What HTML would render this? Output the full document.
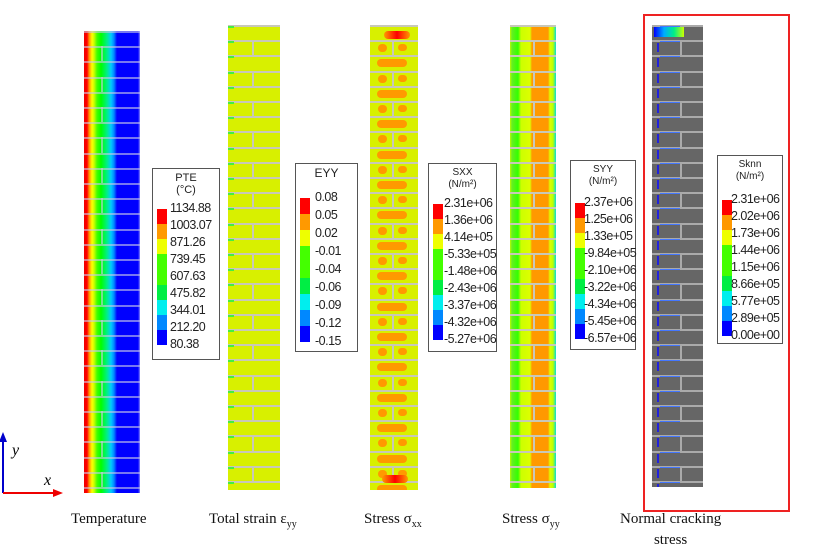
<!DOCTYPE html>
<html><head><meta charset="utf-8"><style>
body{margin:0;width:828px;height:546px;background:#fff;position:relative;overflow:hidden;font-family:"Liberation Sans",sans-serif}
.col{position:absolute;overflow:hidden}
.leg{position:absolute;border:1px solid #555;background:#fff;font-size:11px;color:#222}
.leg .t{text-align:center;line-height:12px;margin-top:3px}
.leg .bar{position:absolute;width:10px}
.leg .v{position:absolute;line-height:13px;font-size:12.5px;letter-spacing:-0.5px}
.cap{position:absolute;font-family:"Liberation Serif",serif;font-size:15px;color:#111;white-space:nowrap}
</style></head><body>
<div id="c1" class="col" style="left:84px;top:31px;width:56px;height:462px;background:linear-gradient(90deg,#e00 0,#f00 3px,#f80 5px,#ff0 8px,#cf0 10px,#4f0 13px,#0f0 17px,#0e8 23px,#0cf 27px,#08f 30px,#00f 33px,#00f 54px,#88f 56px)"></div>
<div id="c2" class="col" style="left:228px;top:25px;width:52px;height:465px;background:#d8f000"></div>
<div id="c3" class="col" style="left:370px;top:25px;width:48px;height:465px;background:#d8f000"></div>
<div id="c4" class="col" style="left:510px;top:25px;width:46px;height:463px;background:linear-gradient(90deg,#bf0 0,#6e2 2px,#3f0 8px,#cf0 11px,#df0 20px,#f90 22px,#f90 38px,#df0 40px,#bf0 43px,#0dd 46px)"></div>
<div id="c5" class="col" style="left:652px;top:25px;width:51px;height:462px;background:#666"></div>
<div style="position:absolute;left:643px;top:14px;width:143px;height:494px;border:2px solid #e22"></div>

<div class="leg" style="left:152px;top:168px;width:66px;height:190px"><div class="t">PTE<br>(°C)</div></div>
<div class="leg" style="left:295px;top:163px;width:61px;height:187px"><div class="t" style="font-size:12px">EYY</div></div>
<div class="leg" style="left:428px;top:163px;width:67px;height:187px"><div class="t" style="font-size:10px">SXX<br>(N/m²)</div></div>
<div class="leg" style="left:570px;top:160px;width:64px;height:188px"><div class="t" style="font-size:10px">SYY<br>(N/m²)</div></div>
<div class="leg" style="left:717px;top:155px;width:64px;height:187px"><div class="t" style="font-size:10px">Sknn<br>(N/m²)</div></div>

<svg style="position:absolute;left:0;top:0" width="828" height="546">
<line x1="3" y1="493" x2="3" y2="438" stroke="#00c" stroke-width="2"/><polygon points="3,432 -1,442 7,442" fill="#00c"/>
<line x1="3" y1="493" x2="56" y2="493" stroke="#e00" stroke-width="2"/><polygon points="63,493 53,489 53,497" fill="#e00"/>
<text x="12" y="455" font-family="Liberation Serif" font-style="italic" font-size="16">y</text>
<text x="44" y="485" font-family="Liberation Serif" font-style="italic" font-size="16">x</text>
</svg>
<div class="cap" style="left:71px;top:511px">Temperature</div>
<div class="cap" style="left:209px;top:511px">Total strain ε<sub style="font-size:10px">yy</sub></div>
<div class="cap" style="left:364px;top:511px">Stress σ<sub style="font-size:10px">xx</sub></div>
<div class="cap" style="left:502px;top:511px">Stress σ<sub style="font-size:10px">yy</sub></div>
<div class="cap" style="left:620px;top:509px;text-align:center;line-height:21px">Normal cracking<br>stress</div>
<script>
var cols=["#00f","#08f","#0ee","#0e4","#4f0","#ef0","#f90","#f00"];
function legend(i,vals,barTop,barH,valLeft){
  var L=document.querySelectorAll('.leg')[i];
  var n=vals.length, step=barH/n;
  for(var k=0;k<n;k++){
    var b=document.createElement('div');b.className='bar';
    b.style.left='4px';b.style.top=(barTop+k*step)+'px';b.style.height=step+'px';
    var idx=Math.round((n-1-k)*(cols.length-1)/(n-1));b.style.background=cols[idx];L.appendChild(b);
    var v=document.createElement('div');v.className='v';v.textContent=vals[k];
    v.style.left=valLeft+'px';v.style.top=(barTop-7+k*(barH/(n-1)))+'px';L.appendChild(v);
  }
}
legend(0,["1134.88","1003.07","871.26","739.45","607.63","475.82","344.01","212.20","80.38"],40,136,17);
legend(1,["0.08","0.05","0.02","-0.01","-0.04","-0.06","-0.09","-0.12","-0.15"],34,144,19);
legend(2,["2.31e+06","1.36e+06","4.14e+05","-5.33e+05","-1.48e+06","-2.43e+06","-3.37e+06","-4.32e+06","-5.27e+06"],40,136,15);
legend(3,["2.37e+06","1.25e+06","1.33e+05","-9.84e+05","-2.10e+06","-3.22e+06","-4.34e+06","-5.45e+06","-6.57e+06"],42,136,13);
legend(4,["2.31e+06","2.02e+06","1.73e+06","1.44e+06","1.15e+06","8.66e+05","5.77e+05","2.89e+05","0.00e+00"],44,136,13);
function bricks(id,jc,mortar,extra){
  var c=document.getElementById(id),W=c.offsetWidth,H=c.offsetHeight,p=15.2;
  for(var r=0;r*p<H;r++){
    var y=r*p;
    var m=document.createElement('div');m.style.cssText='position:absolute;left:0;width:'+W+'px;top:'+y+'px;height:2px;background:'+mortar;c.appendChild(m);
    if(r%2==1){var v=document.createElement('div');v.style.cssText='position:absolute;top:'+y+'px;height:'+p+'px;left:'+Math.round(W*jc)+'px;width:2px;background:'+mortar;c.appendChild(v);}
    if(extra)extra(c,r,y,W);
  }
}
bricks('c1',0.3,'rgba(200,200,230,.6)');
bricks('c2',0.47,'#c8c8b8',function(c,r,y,W){var g=document.createElement('div');g.style.cssText='position:absolute;left:0;top:'+(y+1)+'px;width:6px;height:2px;background:#4e4';c.appendChild(g);});
bricks('c3',0.45,'#c8c8b8',function(c,r,y,W){
  if(r==0)return;
  function blob(l,w,h){var b=document.createElement('div');b.style.cssText='position:absolute;background:#f90;border-radius:5px;left:'+l+'px;top:'+(y+4)+'px;width:'+w+'px;height:'+h+'px';c.appendChild(b);}
  if(r%2==0)blob(7,30,8);else{blob(8,9,8);blob(28,9,7);}
});
bricks('c4',0.5,'#c8c8b8');
bricks('c5',0.55,'#aaa',function(c,r,y,W){var g=document.createElement('div');g.style.cssText='position:absolute;left:5px;top:'+(y+3)+'px;width:2px;height:9px;background:#22d';c.appendChild(g);
 var h=document.createElement('div');h.style.cssText='position:absolute;left:8px;top:'+(y+1)+'px;width:20px;height:1px;background:#47f';c.appendChild(h);});
(function(){var c=document.getElementById('c3');var b=document.createElement('div');b.style.cssText='position:absolute;left:14px;top:6px;width:26px;height:8px;border-radius:6px;background:linear-gradient(90deg,#f90,#f00,#f90)';c.appendChild(b);
var b2=document.createElement('div');b2.style.cssText='position:absolute;left:12px;top:450px;width:26px;height:8px;border-radius:6px;background:linear-gradient(90deg,#f90,#f00,#f90)';c.appendChild(b2);
var c5=document.getElementById('c5');var t=document.createElement('div');t.style.cssText='position:absolute;left:2px;top:2px;width:30px;height:10px;background:linear-gradient(90deg,#00f,#0af,#0e8,#cf0)';c5.appendChild(t);})();
</script>
</body></html>
